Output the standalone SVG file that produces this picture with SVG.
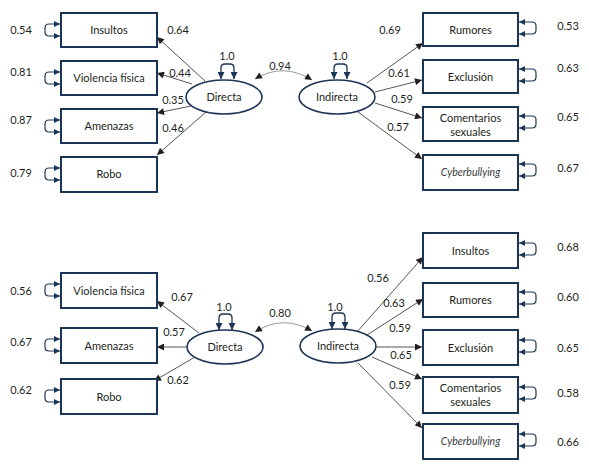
<svg xmlns="http://www.w3.org/2000/svg" width="589" height="472" viewBox="0 0 589 472">
<defs>
<style>
text{font-family:Lato,"Open Sans","Liberation Sans",sans-serif;font-size:11px;fill:#231f20}
.c{text-anchor:middle}
.cy{font-style:italic;font-size:10.5px;fill:#3a3a3a}
.box{fill:#fff;stroke:#1b3556;stroke-width:2}
.lat{fill:#fff;stroke:#1b3556;stroke-width:1.6}
.ld{fill:none;stroke:#555;stroke-width:1;marker-end:url(#ah)}
.sl{fill:none;stroke:#1b3556;stroke-width:1.3;marker-start:url(#nh);marker-end:url(#nh)}
.er{fill:none;stroke:#1b3556;stroke-width:1.2;marker-start:url(#eh);marker-end:url(#eh)}
.cor{fill:none;stroke:#999;stroke-width:1;marker-start:url(#ch);marker-end:url(#ch)}
</style>
<marker id="ah" viewBox="0 0 10 10" refX="10" refY="5" markerWidth="8" markerHeight="7" markerUnits="userSpaceOnUse" orient="auto"><path d="M0,0L10,5L0,10Z" fill="#231f20"/></marker>
<marker id="ch" viewBox="0 0 10 10" refX="10" refY="5" markerWidth="8" markerHeight="7" markerUnits="userSpaceOnUse" orient="auto-start-reverse"><path d="M0,0L10,5L0,10Z" fill="#231f20"/></marker>
<marker id="nh" viewBox="0 0 10 10" refX="10" refY="5" markerWidth="8" markerHeight="7" markerUnits="userSpaceOnUse" orient="auto-start-reverse"><path d="M0,0L10,5L0,10Z" fill="#1b3556"/></marker>
<marker id="eh" viewBox="0 0 10 10" refX="10" refY="5" markerWidth="7" markerHeight="6" markerUnits="userSpaceOnUse" orient="auto-start-reverse"><path d="M0,0L10,5L0,10Z" fill="#1b3556"/></marker>
</defs>

<g id="connectors">
<!-- top panel loadings -->
<path class="ld" d="M205,81L157,37"/>
<path class="ld" d="M192,84L157,73"/>
<path class="ld" d="M191,106L157,113"/>
<path class="ld" d="M206,112L157,155"/>
<path class="ld" d="M367,83L423,43"/>
<path class="ld" d="M375,92L422,80"/>
<path class="ld" d="M375,103L422,118"/>
<path class="ld" d="M358,112L422,159"/>
<!-- top self loops -->
<path class="sl" d="M221,79V68Q221,64 225,64H230Q234,64 234,68V79"/>
<path class="sl" d="M334,79V68Q334,64 338,64H343Q347,64 347,68V79"/>
<!-- top correlation -->
<path class="cor" d="M255,79Q283,62 312,80"/>
<!-- top error loops -->
<path class="er" d="M60,24H49Q45,24 45,28V32Q45,36 49,36H60"/>
<path class="er" d="M60,72H49Q45,72 45,76V80Q45,84 49,84H60"/>
<path class="er" d="M60,120H49Q45,120 45,124V128Q45,132 49,132H60"/>
<path class="er" d="M60,168H49Q45,168 45,172V176Q45,180 49,180H60"/>
<path class="er" d="M519,22H532Q536,22 536,26V30Q536,34 532,34H519"/>
<path class="er" d="M519,69H532Q536,69 536,73V77Q536,81 532,81H519"/>
<path class="er" d="M519,116H532Q536,116 536,120V124Q536,128 532,128H519"/>
<path class="er" d="M519,164H532Q536,164 536,168V172Q536,176 532,176H519"/>

<!-- bottom panel loadings -->
<path class="ld" d="M199,333L157,301"/>
<path class="ld" d="M188,347L157,347"/>
<path class="ld" d="M195,357L154,381"/>
<path class="ld" d="M357,332L423,257"/>
<path class="ld" d="M367,335L423,299"/>
<path class="ld" d="M376,347L422,347"/>
<path class="ld" d="M372,357L422,379"/>
<path class="ld" d="M358,363L422,428"/>
<!-- bottom self loops -->
<path class="sl" d="M219,330V318Q219,314 223,314H228Q232,314 232,318V330"/>
<path class="sl" d="M332,329V317Q332,313 336,313H341Q345,313 345,317V329"/>
<!-- bottom correlation -->
<path class="cor" d="M255,332Q283,314 312,331"/>
<!-- bottom error loops -->
<path class="er" d="M60,284H49Q45,284 45,288V292Q45,296 49,296H60"/>
<path class="er" d="M60,339H49Q45,339 45,343V347Q45,351 49,351H60"/>
<path class="er" d="M60,390H49Q45,390 45,394V398Q45,402 49,402H60"/>
<path class="er" d="M519,243H532Q536,243 536,247V251Q536,255 532,255H519"/>
<path class="er" d="M519,292H532Q536,292 536,296V300Q536,304 532,304H519"/>
<path class="er" d="M519,340H532Q536,340 536,344V348Q536,352 532,352H519"/>
<path class="er" d="M519,387H532Q536,387 536,391V395Q536,399 532,399H519"/>
<path class="er" d="M519,434H532Q536,434 536,438V442Q536,446 532,446H519"/>
</g>

<!-- top panel nodes -->
<g id="t-insultos"><rect class="box" x="61" y="13" width="96" height="34"/><text class="c" x="109" y="34">Insultos</text></g>
<g id="t-violencia"><rect class="box" x="61" y="61" width="96" height="34"/><text class="c" x="109" y="82">Violencia física</text></g>
<g id="t-amenazas"><rect class="box" x="61" y="109" width="96" height="34"/><text class="c" x="109" y="130">Amenazas</text></g>
<g id="t-robo"><rect class="box" x="61" y="157" width="96" height="35"/><text class="c" x="109" y="178">Robo</text></g>
<g id="t-directa"><ellipse class="lat" cx="224" cy="97" rx="38" ry="17"/><text class="c" x="224" y="101">Directa</text></g>
<g id="t-indirecta"><ellipse class="lat" cx="337" cy="97" rx="38" ry="17"/><text class="c" x="337" y="101">Indirecta</text></g>
<g id="t-rumores"><rect class="box" x="423" y="13" width="95" height="33"/><text class="c" x="470.5" y="33.5">Rumores</text></g>
<g id="t-exclusion"><rect class="box" x="423" y="60" width="95" height="33"/><text class="c" x="470.5" y="80.5">Exclusión</text></g>
<g id="t-comentarios"><rect class="box" x="423" y="107" width="95" height="34"/><text class="c" x="470.5" y="122">Comentarios</text><text class="c" x="470.5" y="136">sexuales</text></g>
<g id="t-cyber"><rect class="box" x="423" y="155" width="95" height="35"/><text class="c cy" x="470.5" y="176">Cyberbullying</text></g>

<!-- top panel labels -->
<g id="t-labels">
<text class="c" x="21" y="34">0.54</text>
<text class="c" x="21" y="76">0.81</text>
<text class="c" x="21" y="124">0.87</text>
<text class="c" x="21" y="177">0.79</text>
<text class="c" x="178" y="34">0.64</text>
<text class="c" x="180" y="77">0.44</text>
<text class="c" x="173" y="104">0.35</text>
<text class="c" x="173" y="132">0.46</text>
<text class="c" x="227" y="59.5">1.0</text>
<text class="c" x="340" y="59.5">1.0</text>
<text class="c" x="280" y="70">0.94</text>
<text class="c" x="390" y="34">0.69</text>
<text class="c" x="399" y="77">0.61</text>
<text class="c" x="402" y="103">0.59</text>
<text class="c" x="398" y="131">0.57</text>
<text class="c" x="568" y="30">0.53</text>
<text class="c" x="568" y="72">0.63</text>
<text class="c" x="568" y="121">0.65</text>
<text class="c" x="568" y="172">0.67</text>
</g>

<!-- bottom panel nodes -->
<g id="b-violencia"><rect class="box" x="61" y="273" width="96" height="35"/><text class="c" x="109" y="294.5">Violencia física</text></g>
<g id="b-amenazas"><rect class="box" x="61" y="328" width="96" height="35"/><text class="c" x="109" y="349.5">Amenazas</text></g>
<g id="b-robo"><rect class="box" x="61" y="379" width="96" height="35"/><text class="c" x="109" y="400.5">Robo</text></g>
<g id="b-directa"><ellipse class="lat" cx="225" cy="347" rx="38" ry="17"/><text class="c" x="225" y="351">Directa</text></g>
<g id="b-indirecta"><ellipse class="lat" cx="338" cy="346" rx="38" ry="17"/><text class="c" x="338" y="350">Indirecta</text></g>
<g id="b-insultos"><rect class="box" x="423" y="233" width="95" height="35"/><text class="c" x="470.5" y="254.5">Insultos</text></g>
<g id="b-rumores"><rect class="box" x="423" y="283" width="95" height="34"/><text class="c" x="470.5" y="304">Rumores</text></g>
<g id="b-exclusion"><rect class="box" x="423" y="330" width="95" height="35"/><text class="c" x="470.5" y="351.5">Exclusión</text></g>
<g id="b-comentarios"><rect class="box" x="423" y="377" width="95" height="36"/><text class="c" x="470.5" y="392">Comentarios</text><text class="c" x="470.5" y="406">sexuales</text></g>
<g id="b-cyber"><rect class="box" x="423" y="424" width="95" height="35"/><text class="c cy" x="470.5" y="445">Cyberbullying</text></g>

<!-- bottom panel labels -->
<g id="b-labels">
<text class="c" x="21" y="295">0.56</text>
<text class="c" x="21" y="346">0.67</text>
<text class="c" x="21" y="394">0.62</text>
<text class="c" x="182" y="301">0.67</text>
<text class="c" x="174" y="336">0.57</text>
<text class="c" x="178" y="384">0.62</text>
<text class="c" x="224" y="310.5">1.0</text>
<text class="c" x="335" y="310.5">1.0</text>
<text class="c" x="280" y="317">0.80</text>
<text class="c" x="378" y="282">0.56</text>
<text class="c" x="394" y="307">0.63</text>
<text class="c" x="400" y="332">0.59</text>
<text class="c" x="401" y="359">0.65</text>
<text class="c" x="400" y="389">0.59</text>
<text class="c" x="568" y="251">0.68</text>
<text class="c" x="568" y="301">0.60</text>
<text class="c" x="568" y="352">0.65</text>
<text class="c" x="568" y="397">0.58</text>
<text class="c" x="568" y="446">0.66</text>
</g>
</svg>
